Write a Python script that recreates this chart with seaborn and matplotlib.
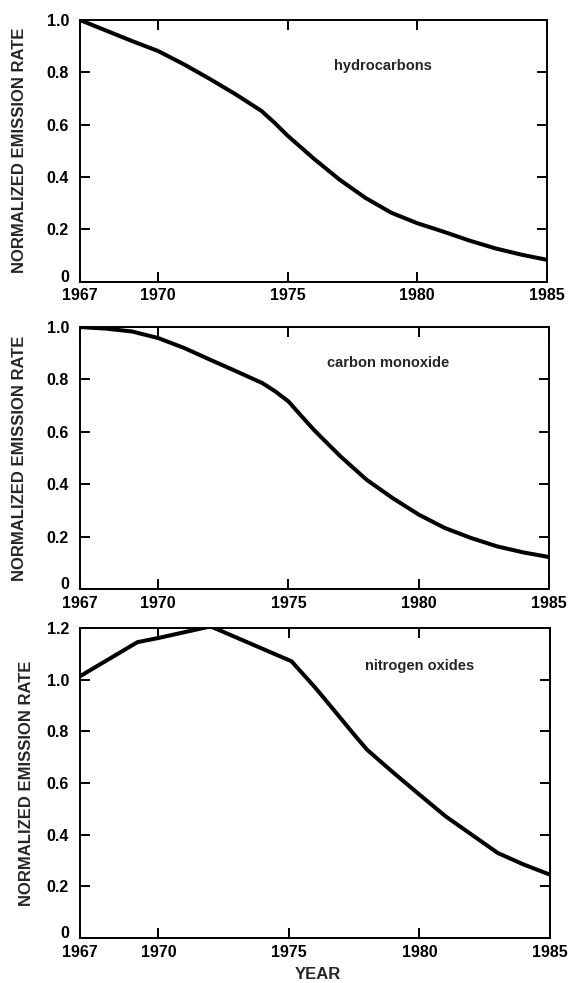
import numpy as np
import pandas as pd
import seaborn as sns
import matplotlib.pyplot as plt
import matplotlib.transforms as mtransforms

# emission rates normalized to 1967
hc_years = [1967, 1968, 1969, 1970, 1971, 1972, 1973, 1974, 1974.5, 1975, 1976,
            1977, 1978, 1979, 1980, 1981, 1982, 1983, 1984, 1985]
hydrocarbons = [1.0, 0.960, 0.920, 0.882, 0.831, 0.775, 0.716, 0.652, 0.607, 0.558, 0.471,
                0.390, 0.320, 0.263, 0.223, 0.191, 0.157, 0.127, 0.103, 0.083]
co_years = [1967, 1968, 1969, 1970, 1971, 1972, 1973, 1974, 1974.5, 1975, 1975.5, 1976,
            1977, 1978, 1979, 1980, 1981, 1982, 1983, 1984, 1985]
carbon_monoxide = [1.0, 0.994, 0.983, 0.958, 0.920, 0.875, 0.831, 0.786, 0.754, 0.716, 0.660, 0.605,
                   0.506, 0.417, 0.347, 0.284, 0.233, 0.195, 0.163, 0.140, 0.122]
nox_years = [1967, 1969.2, 1970, 1972, 1975.1, 1976, 1976.7, 1977.6, 1978, 1979, 1980,
             1981, 1982, 1983, 1984, 1985]
nitrogen_oxides = [1.013, 1.145, 1.161, 1.206, 1.071, 0.970, 0.885, 0.775, 0.728, 0.640, 0.555,
                   0.471, 0.400, 0.329, 0.284, 0.245]

labels = ["hydrocarbons", "carbon monoxide", "nitrogen oxides"]
xticks = [1967, 1970, 1975, 1980, 1985]

sns.set_style("ticks")
plt.rcParams['font.family'] = ['Liberation Sans', 'DejaVu Sans']

fig = plt.figure(figsize=(5.71, 9.83), dpi=100)

# axes boxes in figure fraction
boxes = [[0.1401, 0.7136, 0.8179, 0.2660],
         [0.1401, 0.4008, 0.8214, 0.2665],
         [0.1401, 0.0458, 0.8231, 0.3154]]
series = [(hc_years, hydrocarbons), (co_years, carbon_monoxide), (nox_years, nitrogen_oxides)]
ymax = [1.0, 1.0, 1.2]
text_pos = [(0.649, 0.825), (0.656, 0.861), (0.723, 0.877)]
label_x = [-0.113, -0.113, -0.098]

for i in range(3):
    ax = fig.add_axes(boxes[i])
    df = pd.DataFrame({"year": series[i][0], "rate": series[i][1]})
    sns.lineplot(data=df, x="year", y="rate", color="black", lw=2.9, ax=ax,
                 solid_joinstyle="round", solid_capstyle="round")
    ax.set_xlim(1967, 1985)
    ax.set_ylim(0, ymax[i])
    ax.set_xticks(xticks)
    ax.set_xticklabels([str(t) for t in xticks])
    yt = np.round(np.arange(0, ymax[i] + 0.01, 0.2), 1)
    ax.set_yticks(yt)
    ax.set_yticklabels(["0"] + ["%.1f" % v for v in yt[1:]])
    ax.tick_params(direction="in", length=7, width=1.4, top=True, right=True,
                   labelsize=11.5, colors="black")
    ax.tick_params(axis="x", pad=5)
    ax.tick_params(axis="y", pad=8)
    for lab in ax.get_xticklabels() + ax.get_yticklabels():
        lab.set_fontweight("bold")
    # the "0" sits a little above the corner, clear of the 1967 label
    zero = ax.get_yticklabels()[0]
    zero.set_transform(zero.get_transform() +
                       mtransforms.ScaledTranslation(0, 4 / 72, fig.dpi_scale_trans))
    for sp in ax.spines.values():
        sp.set_linewidth(1.4)
        sp.set_color("black")
    ax.set_ylabel("NORMALIZED EMISSION RATE", fontsize=12, fontweight="bold")
    ax.yaxis.set_label_coords(label_x[i], 0.5)
    ax.set_xlabel("")
    ax.text(text_pos[i][0], text_pos[i][1], labels[i], transform=ax.transAxes,
            ha="center", va="center", fontsize=10.5, fontweight="bold")

ax.set_xlabel("YEAR", fontsize=12, fontweight="bold", va="center")
ax.xaxis.set_label_coords(0.506, -0.119)

fig.savefig("out.png", dpi=100)
